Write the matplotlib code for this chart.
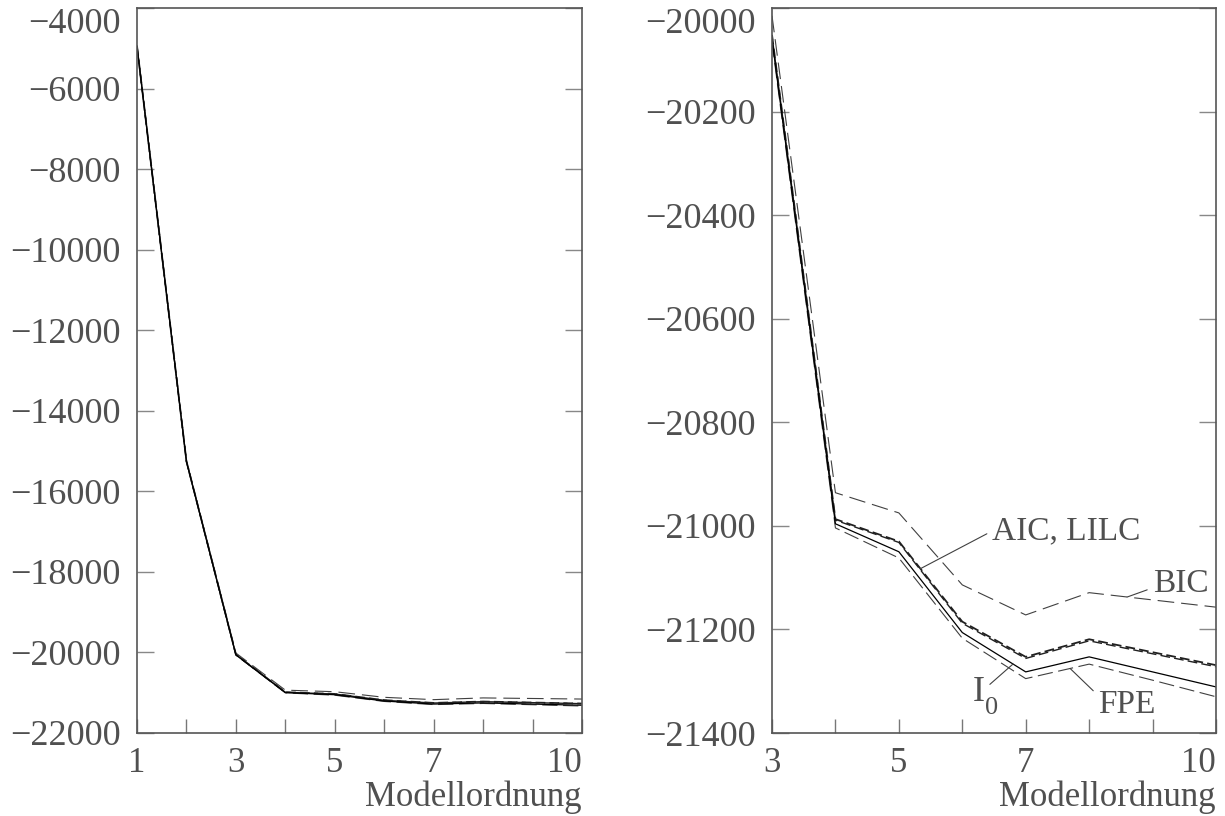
import numpy as np
import matplotlib.pyplot as plt

plt.rcParams['font.family'] = ['Liberation Serif', 'DejaVu Serif']
plt.rcParams['lines.scale_dashes'] = False

# Modellordnung und Kriterienwerte
orders = np.arange(1, 11)
i0 = [-4950, -15260, -20060, -20996, -21050, -21206, -21282, -21253, -21282, -21311]
aic = [-4945, -15252, -20052, -20987, -21030, -21185, -21253, -21219, -21244, -21269]
lilc = [-4946, -15254, -20054, -20989, -21032, -21188, -21256, -21222, -21247, -21272]
bic = [-4925, -15230, -20015, -20936, -20975, -21114, -21172, -21129, -21143, -21157]
fpe = [-4955, -15266, -20066, -21004, -21062, -21217, -21295, -21267, -21298, -21330]

txt_col = '#505050'
fs = 26

fig = plt.figure(figsize=(12.25, 8.16), dpi=100)
ax1 = fig.add_axes([137/1225, 83/816, 445/1225, 725/816])
ax2 = fig.add_axes([772/1225, 83/816, 444/1225, 725/816])


def draw_curves(ax, start):
    x = orders[start:]
    ax.plot(x, bic[start:], color='#404040', lw=0.8, linestyle=(0, (12, 5)))
    ax.plot(x, fpe[start:], color='#404040', lw=0.8, linestyle=(0, (11, 4)))
    ax.plot(x, aic[start:], color='#202020', lw=1.3, linestyle=(0, (7, 3)))
    ax.plot(x, lilc[start:], color='#202020', lw=1.0, linestyle=(4, (7, 3)))
    ax.plot(x, i0[start:], color='black', lw=0.9)


def style(ax, xmaj, xmin, yticks):
    ax.set_xlim(xmaj[0], xmaj[-1])
    ax.set_ylim(yticks[0], yticks[-1])
    ax.set_xticks(xmaj)
    ax.set_xticks(xmin, minor=True)
    ax.set_yticks(yticks)
    ax.tick_params(axis='x', which='both', direction='in', length=10, width=1,
                   color='#777777', pad=10, labelsize=25, labelcolor=txt_col)
    ax.tick_params(axis='y', which='both', direction='in', length=12, width=1,
                   color='#888888', pad=12, labelsize=fs, labelcolor=txt_col,
                   left=True, right=True)
    for s in ax.spines.values():
        s.set_color('#555555')
        s.set_linewidth(1.2)
    ax.get_xticklabels()[-1].set_ha('right')
    lab = ax.get_yticklabels()[-1]
    lab.set_va('top')
    ax.text(1.0, -0.1, 'Modellordnung', transform=ax.transAxes, ha='right',
            va='baseline', fontsize=25, color=txt_col)


draw_curves(ax1, 0)
style(ax1, [1, 3, 5, 7, 10], [2, 4, 6, 8, 9], np.arange(-22000, -3999, 2000))

draw_curves(ax2, 2)
style(ax2, [3, 5, 7, 10], [4, 6, 8, 9], np.arange(-21400, -19999, 200))

# Beschriftung der Kurven
lead = dict(arrowstyle='-', lw=0.8, color='#404040', shrinkA=2, shrinkB=0)
afs = 24

xa = 5.34
ax2.annotate('AIC, LILC', xy=(xa, np.interp(xa, orders, aic)), xytext=(6.47, -21010),
             ha='left', va='center', fontsize=afs, color=txt_col,
             arrowprops=dict(lead, relpos=(0, 0.5)))
xb = 8.6
ax2.annotate('BIC', xy=(xb, np.interp(xb, orders, bic)), xytext=(9.0, -21111),
             ha='left', va='center', fontsize=afs, color=txt_col,
             arrowprops=dict(lead, relpos=(0, 0.35)))
xi = 6.8
ax2.annotate('I', xy=(xi, np.interp(xi, orders, i0)), xytext=(6.17, -21322),
             ha='left', va='center', fontsize=afs + 2, color=txt_col,
             arrowprops=dict(lead, relpos=(1.4, 0.75), shrinkA=0))
ax2.text(6.36, -21352, '0', ha='left', va='center', fontsize=19, color=txt_col)
xf = 7.7
ax2.annotate('FPE', xy=(xf, np.interp(xf, orders, fpe)), xytext=(8.14, -21345),
             ha='left', va='center', fontsize=afs, color=txt_col,
             arrowprops=dict(lead, relpos=(0, 0.8)))

fig.savefig('out.png', dpi=100)
